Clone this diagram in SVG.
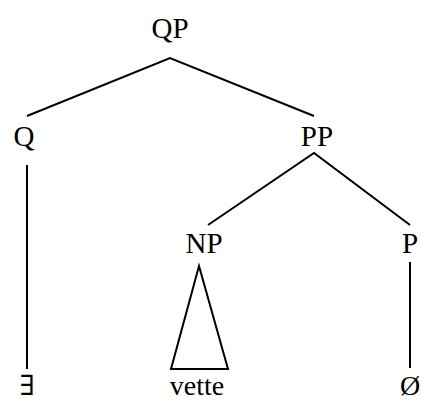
<svg xmlns="http://www.w3.org/2000/svg" width="423" height="401" viewBox="0 0 423 401">
<style>
text{font-family:"Liberation Serif","DejaVu Serif",serif;font-size:29px;fill:#000;text-anchor:middle}
.b{font-size:28px}
.e{fill:none;stroke:#000;stroke-width:2;stroke-linejoin:miter}
</style>
<rect width="423" height="401" fill="#fff"/>
<g id="connectors">
<polyline class="e" points="27,116 170,58 314,116"/>
<line class="e" x1="27" y1="165" x2="27" y2="369"/>
<polyline class="e" points="208,225 314,153 410,225"/>
<polygon class="e" points="199,266 171,369 228,369"/>
<line class="e" x1="410" y1="262" x2="410" y2="368"/>
</g>
<g id="QP"><text x="170" y="38">QP</text></g>
<g id="Q"><text x="24" y="146">Q</text></g>
<g id="PP"><text x="317" y="146">PP</text></g>
<g id="NP"><text x="204" y="253">NP</text></g>
<g id="P"><text x="410" y="253">P</text></g>
<g id="exists"><text class="b" x="27" y="395">∃</text></g>
<g id="vette"><text class="b" x="197" y="395">vette</text></g>
<g id="empty"><text class="b" x="410" y="395">Ø</text></g>
</svg>
